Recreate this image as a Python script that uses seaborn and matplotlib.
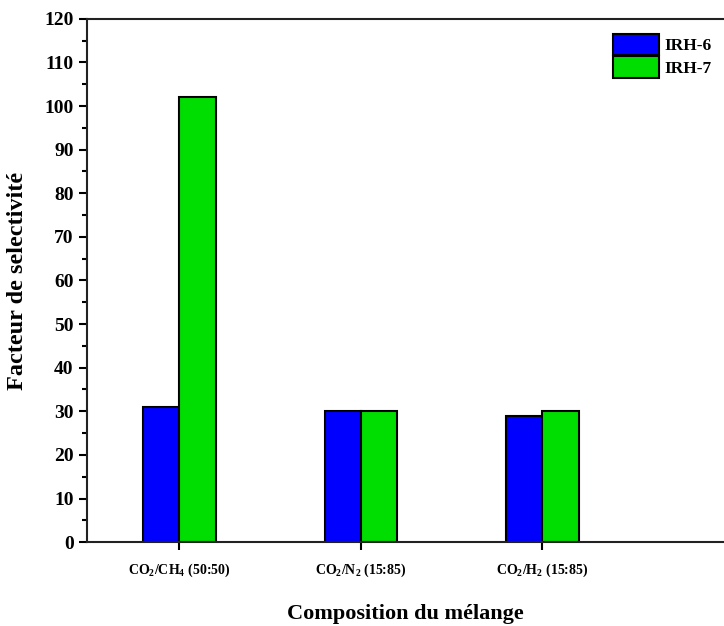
import pandas as pd
import matplotlib
matplotlib.use("Agg")
import matplotlib.pyplot as plt
import seaborn as sns

# Data
categories = ["CO$_2$/CH$_4$ (50:50)", "CO$_2$/N$_2$ (15:85)", "CO$_2$/H$_2$ (15:85)"]
irh6 = [31, 30, 29]
irh7 = [102, 30, 30]
series_names = ["IRH-6", "IRH-7"]
colors = ["#0000FF", "#00DD00"]

df = pd.DataFrame({
    "Composition": categories * 2,
    "Valeur": irh6 + irh7,
    "Materiau": [series_names[0]] * 3 + [series_names[1]] * 3,
})

sns.set_theme(style="ticks")
plt.rcParams["font.family"] = ["Liberation Serif", "DejaVu Serif"]
plt.rcParams["font.weight"] = "bold"
plt.rcParams["mathtext.fontset"] = "custom"
plt.rcParams["mathtext.rm"] = "Liberation Serif:bold"
plt.rcParams["mathtext.default"] = "rm"
plt.rcParams["text.color"] = "black"
plt.rcParams["axes.labelcolor"] = "black"
plt.rcParams["xtick.color"] = "black"
plt.rcParams["ytick.color"] = "black"

fig = plt.figure(figsize=(7.24, 6.26), dpi=100)
ax = fig.add_axes([0.120, 0.134, 0.88, 0.836])

sns.barplot(data=df, x="Composition", y="Valeur", hue="Materiau",
            palette=colors, width=0.4, edgecolor="black", linewidth=1.5,
            saturation=1, ax=ax)

ax.set_ylim(0, 120)
ax.set_xlim(-0.51, 3.0)
ax.set_yticks(range(0, 121, 10))
ax.set_yticks(range(5, 120, 10), minor=True)
ax.tick_params(axis="y", which="major", length=6, width=1.5, labelsize=14, direction="out")
ax.tick_params(axis="y", which="minor", length=3.5, width=1.5, direction="out")
ax.tick_params(axis="x", length=6, width=1.5, labelsize=10, direction="out", pad=8)
for lbl in ax.get_yticklabels():
    lbl.set_fontweight("bold")
for lbl in ax.get_xticklabels():
    lbl.set_fontweight("bold")

for side in ["left", "top", "bottom"]:
    ax.spines[side].set_linewidth(1.5)
    ax.spines[side].set_color("#222222")
ax.spines["right"].set_visible(False)

ax.set_xlabel("Composition du mélange", fontsize=16, fontweight="bold", labelpad=18)
ax.set_ylabel("Facteur de selectivité", fontsize=17.5, fontweight="bold", labelpad=12)

ax.legend(loc="upper right", bbox_to_anchor=(1.0, 0.995), frameon=False,
          prop={"weight": "bold", "size": 12.5}, handlelength=2.7, handleheight=1.5,
          labelspacing=0.1, handletextpad=0.3, borderaxespad=0.3)

plt.savefig("out.png", dpi=100)
